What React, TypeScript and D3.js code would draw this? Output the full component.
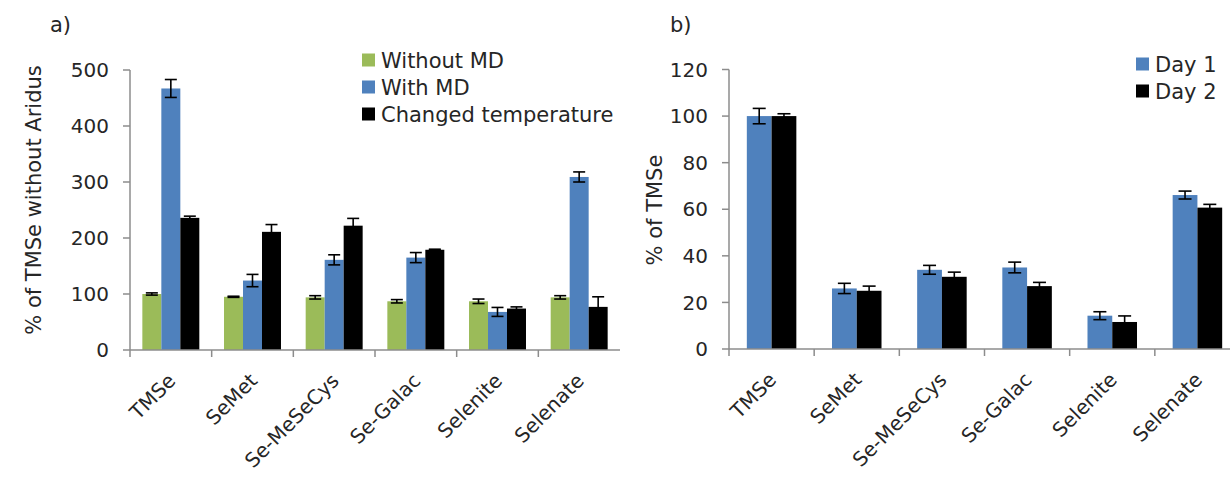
import React from 'react'
import * as d3 from 'd3'

// categories shared by both panels
const categories = ['TMSe', 'SeMet', 'Se-MeSeCys', 'Se-Galac', 'Selenite', 'Selenate']

// panel a)
const seriesA = ['Without MD', 'With MD', 'Changed temperature']
const withoutMD = [100, 95, 94, 87, 87, 94]
const withoutMDErr = [2, 1, 3, 3, 4, 3]
const withMD = [467, 124, 161, 165, 68, 309]
const withMDErr = [16, 11, 9, 9, 8, 9]
const changedTemp = [236, 211, 222, 179, 74, 77]
const changedTempErr = [3, 13, 13, 1, 3, 18]
const ticksA = [0, 100, 200, 300, 400, 500]

// panel b)
const seriesB = ['Day 1', 'Day 2']
const day1 = [100, 26, 34, 35, 14.3, 66.1]
const day1Err = [3.3, 2.2, 1.9, 2.3, 1.7, 1.7]
const day2 = [100, 25, 31, 27, 11.6, 60.7]
const day2Err = [1, 2, 2, 1.6, 2.6, 1.4]
const ticksB = [0, 20, 40, 60, 80, 100, 120]

const colors = { green: '#9BBB59', blue: '#4F81BD', black: '#000000' }
const axisColor = '#8c8c8c'
const textColor = '#262626'
const font = 'DejaVu Sans, Verdana, sans-serif'

const W = 1230, H = 483

const Panel = ({ left, right, top, bottom, yMax, ticks, series, values, errors, fills, padOuter, capW, legendX, legendY, title, titleX, titleY, letter, letterX }) => {
  var x = d3.scaleBand().domain(categories).range([left, right]).paddingInner(0).paddingOuter(0)
  var x1 = d3.scaleBand().domain(series).range([0, x.bandwidth()]).paddingInner(0).paddingOuter(padOuter)
  var y = d3.scaleLinear().domain([0, yMax]).range([bottom, top])

  return (
    <g>
      <text x={letterX} y={32} fontSize={21} fill={textColor}>{letter}</text>
      {/* bars */}
      {series.map((s, si) => (
        <g key={s}>
          {categories.map((c, ci) => (
            <rect key={c} x={x(c) + x1(s)} y={y(values[si][ci])} width={x1.bandwidth()}
              height={bottom - y(values[si][ci])} fill={fills[si]} />
          ))}
        </g>
      ))}
      {/* error bars */}
      {series.map((s, si) => (
        <g key={s} stroke="#000" strokeWidth={1.6}>
          {categories.map((c, ci) => {
            var cx = x(c) + x1(s) + x1.bandwidth() / 2
            var hi = y(values[si][ci] + errors[si][ci])
            var lo = y(values[si][ci] - errors[si][ci])
            return (
              <g key={c}>
                <line x1={cx} x2={cx} y1={hi} y2={lo} />
                <line x1={cx - capW / 2} x2={cx + capW / 2} y1={hi} y2={hi} />
                <line x1={cx - capW / 2} x2={cx + capW / 2} y1={lo} y2={lo} />
              </g>
            )
          })}
        </g>
      ))}
      {/* y axis */}
      <line x1={left} x2={left} y1={top} y2={bottom} stroke={axisColor} strokeWidth={1.5} />
      {ticks.map(t => (
        <g key={t}>
          <line x1={left - 7} x2={left} y1={y(t)} y2={y(t)} stroke={axisColor} strokeWidth={1.5} />
          <text x={left - 21} y={y(t)} dy="0.36em" textAnchor="end" fontSize={20} fill={textColor}>{t}</text>
        </g>
      ))}
      {/* x axis */}
      <line x1={left} x2={right} y1={bottom} y2={bottom} stroke={axisColor} strokeWidth={1.5} />
      {categories.map((c, i) => (
        <line key={c} x1={x(c)} x2={x(c)} y1={bottom} y2={bottom + 7} stroke={axisColor} strokeWidth={1.5} />
      ))}
      {categories.map(c => {
        var px = x(c) + x.bandwidth() / 2 + 6
        var py = bottom + 32
        return (
          <text key={c} x={px} y={py} textAnchor="end" fontSize={20} fill={textColor}
            transform={'rotate(-45,' + px + ',' + py + ')'}>{c}</text>
        )
      })}
      {/* y title */}
      <text x={titleX} y={titleY} textAnchor="middle" fontSize={21} fill={textColor}
        transform={'rotate(-90,' + titleX + ',' + titleY + ')'} dy="0.35em">{title}</text>
      {/* legend */}
      {series.map((s, si) => (
        <g key={s} transform={'translate(' + legendX + ',' + (legendY + si * 27) + ')'}>
          <rect x={0} y={-6.5} width={13} height={13} fill={fills[si]} />
          <text x={19} y={0} dy="0.36em" fontSize={21} fill={textColor}>{s}</text>
        </g>
      ))}
    </g>
  )
}

export default function App() {
  return (
    <div style={{ position: 'absolute', left: 0, top: 0 }}>
      <svg width={W} height={H} style={{ fontFamily: font, display: 'block', background: '#fff' }}>
        <Panel left={130} right={620} top={70} bottom={350} yMax={500} ticks={ticksA}
          series={seriesA} values={[withoutMD, withMD, changedTemp]}
          errors={[withoutMDErr, withMDErr, changedTempErr]}
          fills={[colors.green, colors.blue, colors.black]} padOuter={0.65} capW={12}
          legendX={362} legendY={60} title="% of TMSe without Aridus" titleX={34} titleY={200}
          letter="a)" letterX={50} />
        <Panel left={729} right={1240} top={69.5} bottom={349} yMax={120} ticks={ticksB}
          series={seriesB} values={[day1, day2]} errors={[day1Err, day2Err]}
          fills={[colors.blue, colors.black]} padOuter={0.72} capW={13}
          legendX={1136} legendY={64} title="% of TMSe" titleX={655} titleY={210}
          letter="b)" letterX={670} />
      </svg>
    </div>
  )
}
